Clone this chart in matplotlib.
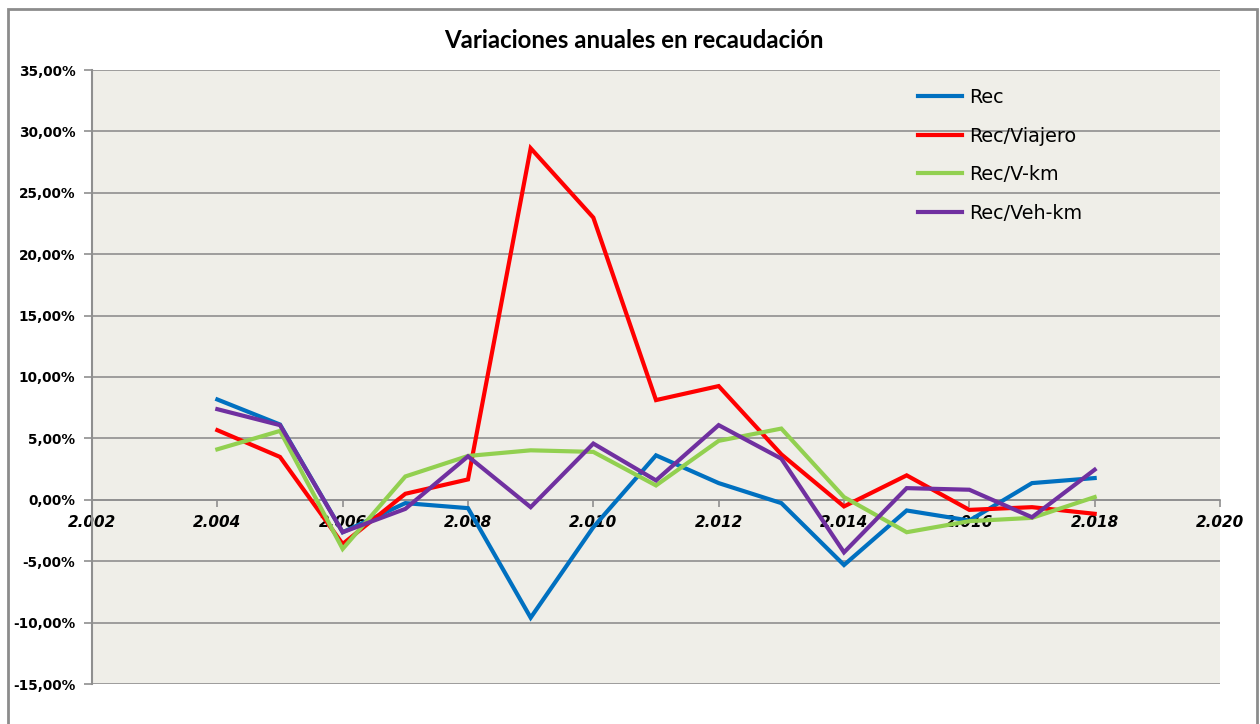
import matplotlib
matplotlib.use("Agg")
import matplotlib.pyplot as plt
from matplotlib.ticker import FuncFormatter, MultipleLocator
from matplotlib.patches import Rectangle

years = [2004, 2005, 2006, 2007, 2008, 2009, 2010, 2011, 2012, 2013, 2014, 2015, 2016, 2017, 2018]
rec = [8.17, 6.13, -2.64, -0.27, -0.68, -9.6, -2.23, 3.62, 1.36, -0.27, -5.31, -0.87, -1.69, 1.36, 1.77]
rec_viajero = [5.67, 3.49, -3.6, 0.49, 1.66, 28.63, 22.98, 8.12, 9.26, 3.7, -0.54, 1.99, -0.82, -0.6, -1.14]
rec_vkm = [4.11, 5.61, -4.0, 1.9, 3.57, 4.03, 3.9, 1.17, 4.8, 5.8, 0.22, -2.64, -1.74, -1.47, 0.22]
rec_vehkm = [7.38, 6.08, -2.64, -0.74, 3.54, -0.6, 4.58, 1.58, 6.08, 3.35, -4.28, 0.95, 0.82, -1.42, 2.45]

labels = ["Rec", "Rec/Viajero", "Rec/V-km", "Rec/Veh-km"]
colors = ["#0070C0", "#FF0000", "#92D050", "#7030A0"]
title = "Variaciones anuales en recaudación"

W, H = 1260, 724
fig = plt.figure(figsize=(W / 100, H / 100), dpi=100)
fig.patch.set_facecolor("white")

# outer chart border
fig.patches.append(Rectangle((8 / W, -0.05), (1257 - 8) / W, 1.05 - 9 / H,
                             transform=fig.transFigure, fill=False,
                             edgecolor="#8c8c8c", linewidth=2, zorder=0))

ax = fig.add_axes([92 / W, 1 - 684 / H, (1220 - 92) / W, (684 - 70) / H])
ax.set_facecolor("#EFEEE8")

for vals, lab, col in zip([rec, rec_viajero, rec_vkm, rec_vehkm], labels, colors):
    ax.plot(years, vals, color=col, lw=3, label=lab, solid_joinstyle="miter", zorder=3)

ax.set_xlim(2002, 2020)
ax.set_ylim(-15, 35)
ax.yaxis.set_major_locator(MultipleLocator(5))
ax.xaxis.set_major_locator(MultipleLocator(2))
ax.yaxis.set_major_formatter(FuncFormatter(lambda v, p: f"{v:.2f}%".replace(".", ",")))
ax.xaxis.set_major_formatter(FuncFormatter(lambda v, p: f"{v/1000:.3f}"))

ax.grid(axis="y", color="#8f8f8f", lw=1.2, zorder=1)
ax.set_axisbelow(True)
for s in ["top", "right"]:
    ax.spines[s].set_visible(False)
ax.spines["bottom"].set_position(("data", 0))
ax.spines["bottom"].set_color("#8f8f8f")
ax.spines["bottom"].set_linewidth(1.2)
ax.spines["left"].set_color("#8f8f8f")
ax.spines["left"].set_linewidth(1.5)

ax.tick_params(axis="y", length=6, width=1.2, color="#8f8f8f", pad=6)
ax.tick_params(axis="x", length=5, width=1.2, color="#8f8f8f", pad=6, direction="out")
for t in ax.get_yticklabels():
    t.set_fontweight("bold")
    t.set_fontsize(9.8)
    t.set_family("DejaVu Sans")
for t in ax.get_xticklabels():
    t.set_fontweight("bold")
    t.set_fontstyle("italic")
    t.set_fontsize(11)
    t.set_family("DejaVu Sans")

fig.text(0.5 * (446 + 822) / W, 1 - 41 / H, title, ha="center", va="center",
         family="Lato", fontweight="bold", fontsize=17.3)

leg = ax.legend(loc="upper left", bbox_to_anchor=(918 / W, 1 - 88 / H),
                bbox_transform=fig.transFigure, frameon=False, prop={"family": "DejaVu Sans", "size": 13.8},
                handlelength=2.3, handletextpad=0.35, labelspacing=1.02, borderpad=0, borderaxespad=0)

fig.savefig("out.png", dpi=100)
